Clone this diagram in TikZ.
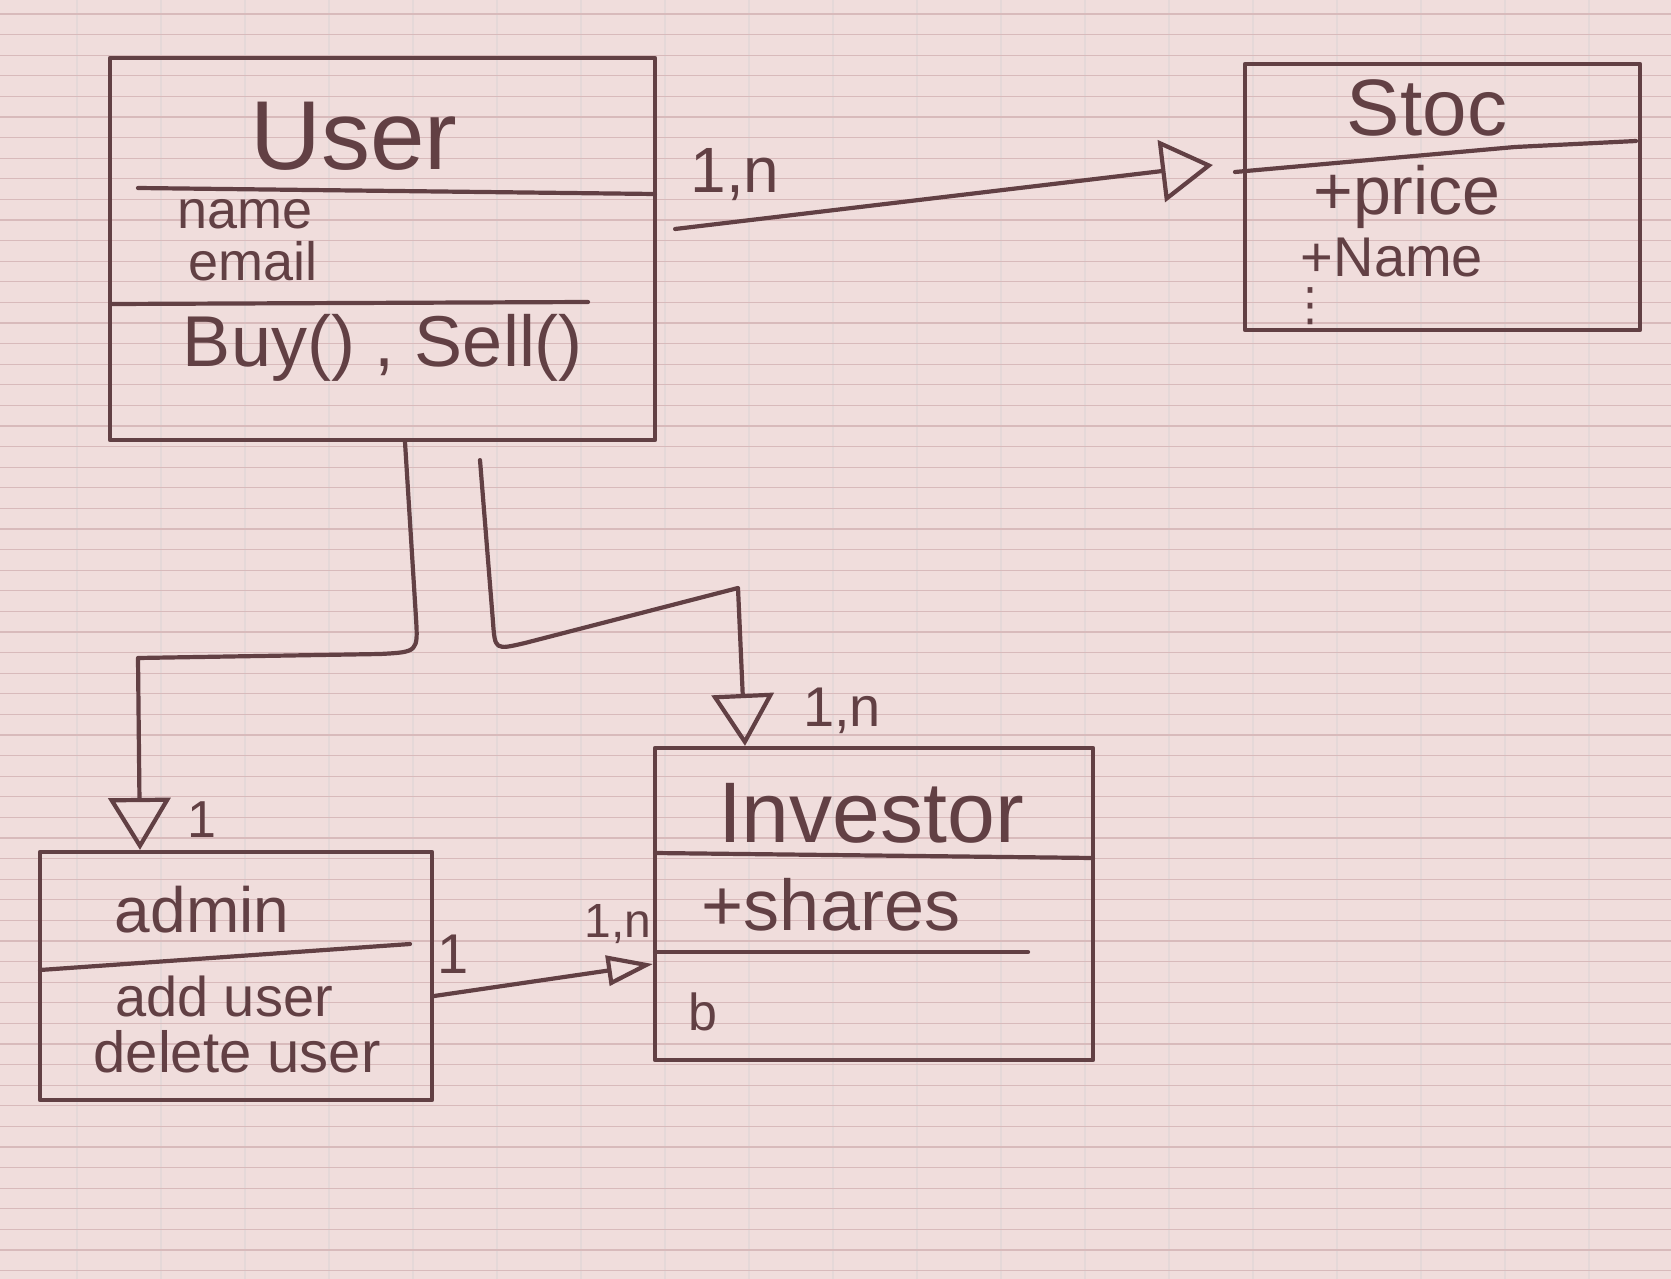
\documentclass[tikz,border=0pt]{standalone}
\usepackage{fontspec}
\setmainfont{Liberation Sans}
\newfontfamily\symfont{DejaVu Sans}
\usetikzlibrary{arrows.meta}
\definecolor{paper}{RGB}{240,221,220}
\definecolor{hline}{RGB}{216,186,187}
\definecolor{vline}{RGB}{229,216,216}
\definecolor{ink}{RGB}{98,64,68}
\newcommand{\myfz}[1]{\fontsize{#1pt}{#1pt}\selectfont}
\begin{document}
\begin{tikzpicture}[x=1pt,y=-1pt,
  classbox/.style={draw=ink, line width=4.2pt, rectangle, inner sep=0pt, line join=round},
  divider/.style={draw=ink, line width=4.2pt, line cap=round, line join=round},
  conn/.style={draw=ink, line width=4.2pt, line cap=round, line join=round},
  txt/.style={text=ink, inner sep=0pt},
  bigtri/.style={-{Triangle[open, length=52pt, width=62pt, line width=4.2pt]}},
  smalltri/.style={-{Triangle[open, length=46pt, width=30pt, line width=4.2pt]}}
]
\useasboundingbox (0,0) rectangle (1671,1279);
\fill[paper] (0,0) rectangle (1671,1279);
\foreach \i in {0,...,18} \draw[vline, line width=2.5pt] ({77+84*\i},0) -- ({77+84*\i},1279);
\foreach \i in {0,...,61} \draw[hline, line width=1.3pt] (0,{14+20.6*\i}) -- (1671,{14+20.6*\i});

% class boxes
\node[classbox, minimum width=545pt, minimum height=382pt] (user) at (382.5,249) {};
\node[classbox, minimum width=395pt, minimum height=266pt] (stoc) at (1442.5,197) {};
\node[classbox, minimum width=392pt, minimum height=248pt] (admin) at (236,976) {};
\node[classbox, minimum width=438pt, minimum height=312pt] (investor) at (874,904) {};

% dividers
\draw[divider] (138,188) -- (655,194);
\draw[divider] (112,304) -- (588,302);
\draw[divider] (1235,172) -- (1515,147) -- (1636,141);
\draw[divider] (40,970) -- (410,944);
\draw[divider] (655,853) -- (1093,858);
\draw[divider] (655,952) -- (1028,952);

% texts
\node[txt] (tuser) at (354,136) {\myfz{98}User};
\node[txt] (tname) at (245,214) {\myfz{54}name};
\node[txt] (temail) at (253,261) {\myfz{54}email};
\node[txt] (tmeth) at (383,348) {\myfz{72}Buy() , Sell()};

\node[txt] (tstoc) at (1427,108) {\myfz{80}Stoc};
\node[txt] (tprice) at (1407,197) {\myfz{68}+price};
\node[txt] (tnom) at (1392,258) {\myfz{56}+Name};
\node[txt] (tdots) at (1310,306) {\symfont\myfz{46}⋮};

\node[txt] (tadmin) at (202,910) {\myfz{64}admin};
\node[txt] (tadd) at (224,996) {\myfz{56}add user};
\node[txt] (tdel) at (237,1052) {\myfz{58}delete user};

\node[txt] (tinv) at (871,813) {\myfz{86}Investor};
\node[txt] (tshares) at (831,905) {\myfz{72}+shares};
\node[txt] (tb) at (703,1012) {\myfz{52}b};

% connectors
\draw[conn, bigtri] ([shift={(18,-20)}]user.east) -- ([shift={(-30,-32)}]stoc.west);
\draw[conn, bigtri] ([xshift=22.5pt]user.south) -- (416,618) .. controls (418,652) .. (380,654) -- (138,658) -- ([xshift=-96pt]admin.north);
\draw[conn, bigtri] ([shift={(97.5,18)}]user.south) -- (493,622) .. controls (495,650) .. (525,643) -- (738,588) -- ([xshift=-129pt]investor.north);
\draw[conn, smalltri] ([yshift=-20pt]admin.east) -- ([yshift=-60pt]investor.west);

% multiplicities
\node[txt] (m1) at (735,175) {\myfz{64}1,n};
\node[txt] (m2) at (202,820) {\myfz{52}1};
\node[txt] (m3) at (842,711) {\myfz{56}1,n};
\node[txt] (m4) at (453,954) {\myfz{56}1};
\node[txt] (m5) at (618,924) {\myfz{48}1,n};
\end{tikzpicture}
\end{document}
